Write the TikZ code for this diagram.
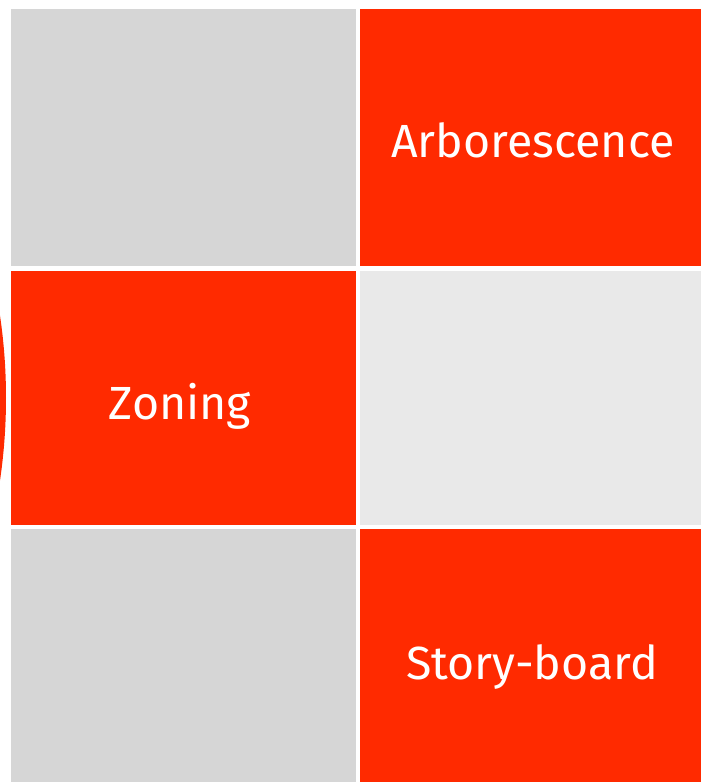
\documentclass[tikz,border=0pt]{standalone}
\usepackage{fontspec}
\setmainfont{Fira Sans}
\definecolor{ored}{HTML}{FF2A00}
\definecolor{gdark}{HTML}{D6D6D6}
\definecolor{glight}{HTML}{E9E9E9}
\begin{document}
\begin{tikzpicture}[x=1pt,y=-1pt,
  lbl/.style={text=white, font=\fontsize{46.5}{46.5}\selectfont, inner sep=0pt}]
\useasboundingbox (0,0) rectangle (701,782);
\begin{scope}
\clip (0,0) rectangle (701,782);
\fill[ored] (-557,398) circle (563);
\fill[white] (7,0) rectangle (701,782);
\end{scope}
\fill[gdark] (11,9) rectangle (356,266);
\fill[ored] (360,9) rectangle (701,266);
\fill[ored] (11,271) rectangle (356,525);
\fill[glight] (360,271) rectangle (701,525);
\fill[gdark] (11,529) rectangle (356,782);
\fill[ored] (360,529) rectangle (701,782);
\node[lbl, anchor=base] (arb) at (533,157) {Arborescence};
\node[lbl, anchor=base] (zon) at (180,419) {Zoning};
\node[lbl, anchor=base] (sto) at (532,679) {Story-board};
\end{tikzpicture}
\end{document}
